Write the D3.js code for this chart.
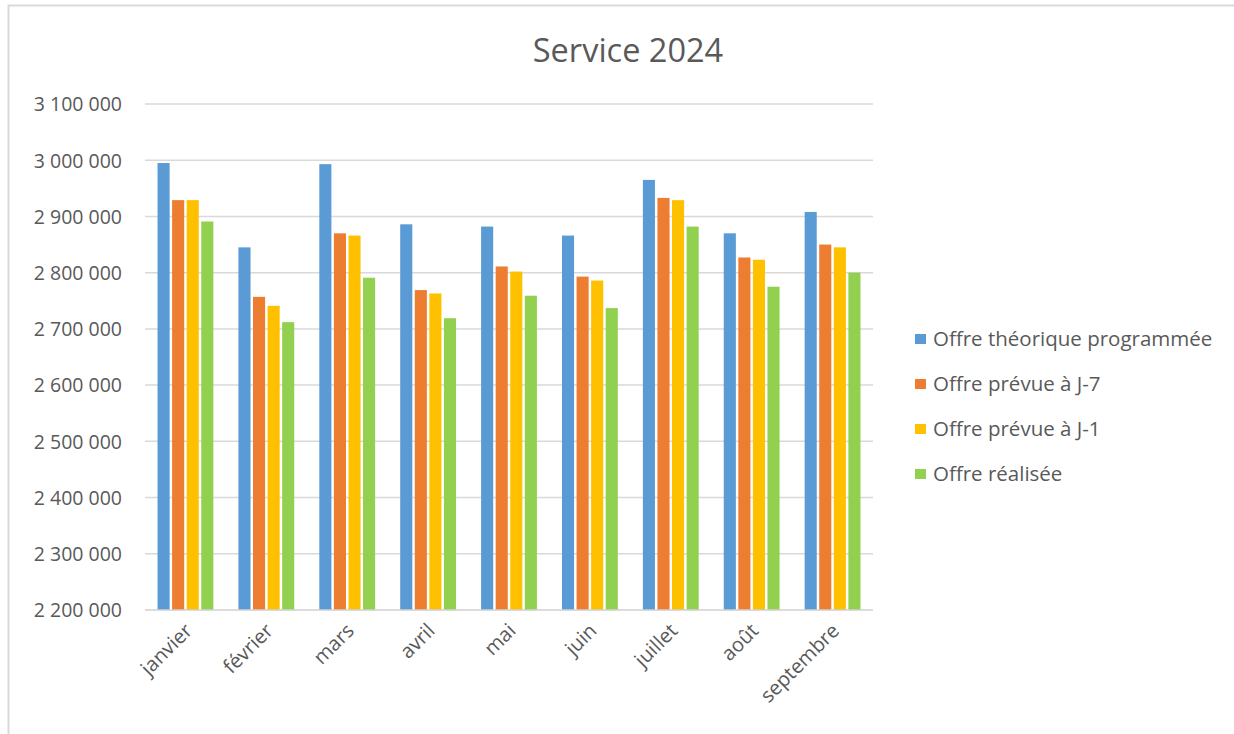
<!DOCTYPE html>
<html><head><meta charset="utf-8">
<script src="https://cdn.jsdelivr.net/npm/d3@7"></script>
<style>
body{margin:0;background:#fff;}
svg{display:block;font-family:"Open Sans",Lato,sans-serif;}
</style></head>
<body><svg id="c" width="1234" height="734"></svg>
<script>
const categories = ["janvier","février","mars","avril","mai","juin","juillet","août","septembre"];
const seriesNames = ["Offre théorique programmée","Offre prévue à J-7","Offre prévue à J-1","Offre réalisée"];
const theorique = [2995000,2845000,2993000,2886000,2882000,2866000,2965000,2870000,2908000];
const prevueJ7 = [2929000,2757000,2870000,2769000,2811000,2793000,2933000,2827000,2850000];
const prevueJ1 = [2929000,2741000,2866000,2763000,2802000,2786000,2929000,2823000,2845000];
const realisee = [2891000,2712000,2791000,2719000,2759000,2737000,2882000,2775000,2800000];
const yTicks = [2200000,2300000,2400000,2500000,2600000,2700000,2800000,2900000,3000000,3100000];
const colors = ["#5b9bd5","#ed7d31","#ffc000","#92d050"];
const title = "Service 2024";

const series = [theorique, prevueJ7, prevueJ1, realisee];
const svg = d3.select("#c");
const FONT = "'Open Sans',Lato,sans-serif";

// frame
svg.append("path").attr("d","M8.5,734 L8.5,5.5 L1234,5.5").attr("fill","none").attr("stroke","#d9d9d9").attr("stroke-width",2);

const x0 = d3.scaleBand().domain(categories).range([145,873]).paddingInner(0.31).paddingOuter(0.155);
const x1 = d3.scaleBand().domain(d3.range(series.length)).range([0,x0.bandwidth()]).paddingInner(0.17).paddingOuter(0);
const y = d3.scaleLinear().domain([2200000,3100000]).range([610,104]);

// gridlines
svg.append("g").selectAll("line").data(yTicks.slice(1)).join("line")
  .attr("x1",145).attr("x2",873).attr("y1",d=>y(d)).attr("y2",d=>y(d))
  .attr("stroke","#d9d9d9").attr("stroke-width",1.5);

// y axis labels
const yAxis = d3.axisLeft(y).tickValues(yTicks).tickSize(0).tickPadding(0)
  .tickFormat(d=>d3.format(",")(d).replace(/,/g," "));
const ga = svg.append("g").attr("transform","translate(122,0)").call(yAxis);
ga.select(".domain").remove();
ga.selectAll("text").attr("fill","#595959").attr("font-size","19.5px").attr("font-family",FONT).attr("dy","0.35em");

// bars
const g = svg.append("g");
categories.forEach((c,i)=>{
  series.forEach((s,j)=>{
    g.append("rect").attr("x",x0(c)+x1(j)).attr("width",x1.bandwidth())
      .attr("y",y(s[i])).attr("height",y(2200000)-y(s[i])).attr("fill",colors[j]);
  });
});

// x axis line
svg.append("line").attr("x1",145).attr("x2",873).attr("y1",610).attr("y2",610).attr("stroke","#d0d0d0").attr("stroke-width",1.5);

// x labels
const xAxis = d3.axisBottom(x0).tickSize(0).tickPadding(0);
const gx = svg.append("g").attr("transform","translate(0,610)").call(xAxis);
gx.select(".domain").remove();
gx.selectAll("text").attr("fill","#595959").attr("font-size","20px").attr("font-family",FONT)
  .attr("text-anchor","end").attr("dy",0).attr("y",0)
  .attr("transform","translate(8,22) rotate(-45)");

// title
svg.append("text").attr("x",628).attr("y",62).attr("text-anchor","middle").attr("fill","#595959")
  .attr("font-size","32.5px").attr("font-family",FONT).text(title);

// legend
const lg = svg.append("g");
seriesNames.forEach((n,i)=>{
  const yy = 339 + i*45;
  lg.append("rect").attr("x",915).attr("y",yy-5).attr("width",11).attr("height",10).attr("fill",colors[i]);
  lg.append("text").attr("x",933).attr("y",yy).attr("dy","0.35em").attr("fill","#595959").attr("font-size","20.5px").attr("font-family",FONT).text(n);
});
</script></body></html>
